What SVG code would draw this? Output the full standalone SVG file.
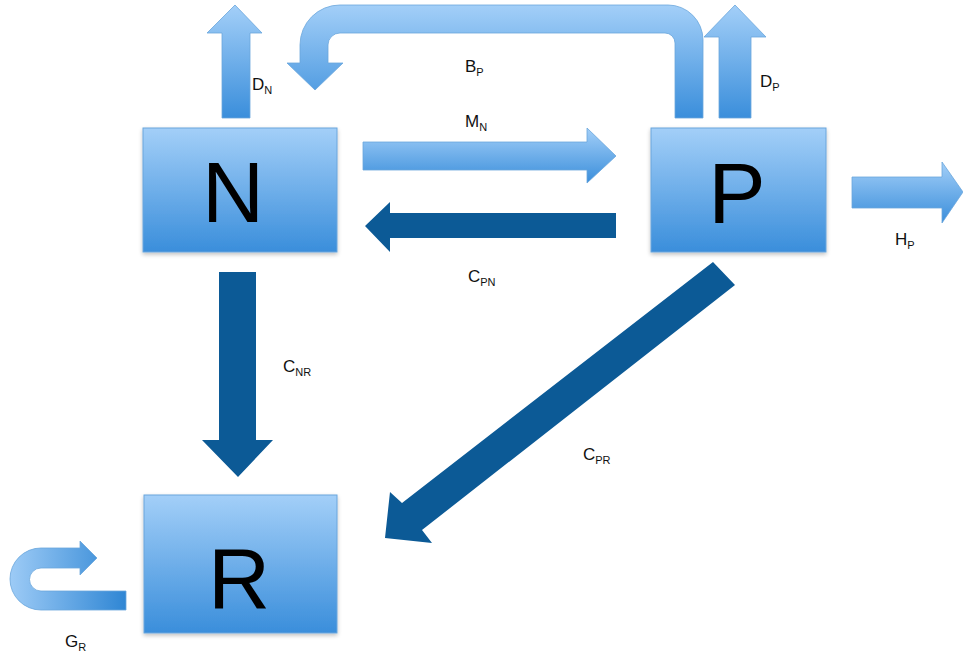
<svg xmlns="http://www.w3.org/2000/svg" width="963" height="656" viewBox="0 0 963 656">
<defs>
<linearGradient id="gv" x1="0" y1="0" x2="0" y2="1">
<stop offset="0" stop-color="#a3cff8"/>
<stop offset="1" stop-color="#3a8edb"/>
</linearGradient>
<linearGradient id="gh" x1="0" y1="0" x2="1" y2="0">
<stop offset="0" stop-color="#9dcbf6"/>
<stop offset="1" stop-color="#2f86d4"/>
</linearGradient>
<filter id="sh" x="-10%" y="-10%" width="120%" height="130%">
<feGaussianBlur in="SourceAlpha" stdDeviation="2"/>
<feOffset dx="0" dy="2" result="b"/>
<feComponentTransfer><feFuncA type="linear" slope="0.25"/></feComponentTransfer>
<feMerge><feMergeNode/><feMergeNode in="SourceGraphic"/></feMerge>
</filter>
</defs>
<style>
.box{fill:url(#gv);stroke:#6aa6dc;stroke-width:1;filter:url(#sh)}
.light{fill:url(#gv);stroke:#6aa6dc;stroke-width:0.8}
.lighth{fill:url(#gh);stroke:#6aa6dc;stroke-width:0.8}
.dark{fill:#0c5a96}
.big{font-family:"Liberation Sans",Arial,sans-serif;font-size:86px;fill:#000;text-anchor:middle}
.lbl{font-family:"Liberation Sans",Arial,sans-serif;font-size:17px;fill:#111}
.sub{font-size:11px}
</style>
<rect width="963" height="656" fill="#fff"/>
<g id="connectors">
<g id="D_N"><polygon class="light" points="222,118 222,33 207,33 235,5 262,33 250,33 250,118"/></g>
<g id="B_P"><path class="light" d="M703,118 L703,40 A35,35 0 0 0 668,5 L340,5 A40,40 0 0 0 300,45 L300,63 L287,63 L315,90 L343,63 L328,63 L328,45 A12,12 0 0 1 340,33 L665,33 A10,10 0 0 1 675,43 L675,118 Z"/></g>
<g id="D_P"><polygon class="light" points="719,118 719,37 704,37 735,5 766,37 751,37 751,118"/></g>
<g id="M_N"><polygon class="light" points="363,142 587,142 587,128 616,156 587,183 587,170 363,170"/></g>
<g id="C_PN"><polygon class="dark" points="616,213 390,213 390,202 365,226 390,252 390,238 616,238"/></g>
<g id="H_P"><polygon class="light" points="852,177 942,177 942,162 963,192 942,223 942,208 852,208"/></g>
<g id="C_NR"><polygon class="dark" points="219,272 256,272 256,440 273,440 238,477 202,440 219,440"/></g>
<g id="C_PR"><polygon class="dark" points="713,262 735,285 422,530 432,543 385,538 390,492 402,503"/></g>
<g id="G_R"><path class="lighth" d="M80,548 L41,548 A31,31 0 0 0 41,610 L126,610 L126,591 L41,591 A11.5,11.5 0 0 1 41,568 L80,568 L80,575 L97,558 L80,541 Z"/></g>
</g>
<g id="N">
<rect class="box" x="143" y="128" width="194" height="124"/>
<text class="big" x="233" y="222">N</text>
</g>
<g id="P">
<rect class="box" x="651" y="128" width="175" height="124"/>
<text class="big" x="737" y="223">P</text>
</g>
<g id="R">
<rect class="box" x="144" y="495" width="193" height="138"/>
<text class="big" x="239" y="608">R</text>
</g>
<g id="labels">
<text class="lbl" x="252" y="90">D<tspan class="sub" dy="4">N</tspan></text>
<text class="lbl" x="465" y="72">B<tspan class="sub" dy="4">P</tspan></text>
<text class="lbl" x="465" y="127">M<tspan class="sub" dy="4">N</tspan></text>
<text class="lbl" x="468" y="282">C<tspan class="sub" dy="4">PN</tspan></text>
<text class="lbl" x="760" y="87">D<tspan class="sub" dy="4">P</tspan></text>
<text class="lbl" x="895" y="245">H<tspan class="sub" dy="4">P</tspan></text>
<text class="lbl" x="283" y="372">C<tspan class="sub" dy="4">NR</tspan></text>
<text class="lbl" x="583" y="460">C<tspan class="sub" dy="4">PR</tspan></text>
<text class="lbl" x="65" y="647">G<tspan class="sub" dy="4">R</tspan></text>
</g>
</svg>
